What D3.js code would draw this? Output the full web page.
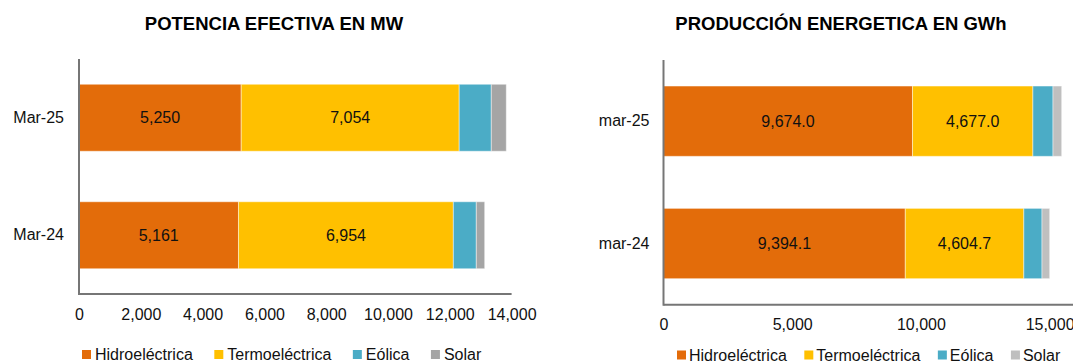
<!DOCTYPE html>
<html>
<head>
<meta charset="utf-8">
<script src="https://cdn.jsdelivr.net/npm/d3@7"></script>
<style>
  body { margin: 0; background: #fff; }
  svg { font-family: "Liberation Sans", Arial, sans-serif; display: block; }
  .axis path { stroke: #767676; stroke-width: 2; }
  .axis text { font-size: 16px; fill: #111; }
</style>
</head>
<body>
<svg width="1073" height="363"></svg>
<script>
// series en kleuren
var seriesNames = ["Hidroeléctrica", "Termoeléctrica", "Eólica", "Solar"];

// potencia efectiva (MW)
var potCategories = ["Mar-25", "Mar-24"];
var potHidro = [5250, 5161];
var potTermo = [7054, 6954];
var potEolica = [1039, 743];
var potSolar = [485, 271];
var potTicks = [0, 2000, 4000, 6000, 8000, 10000, 12000, 14000];

// produccion energetica (GWh)
var prodCategories = ["mar-25", "mar-24"];
var prodHidro = [9674.0, 9394.1];
var prodTermo = [4677.0, 4604.7];
var prodEolica = [781, 706];
var prodSolar = [338, 299];
var prodTicks = [0, 5000, 10000, 15000];

var svg = d3.select("svg");

function buildRows(cats, h, t, e, s) {
    return cats.map(function (c, i) {
        return { cat: c, "Hidroeléctrica": h[i], "Termoeléctrica": t[i], "Eólica": e[i], "Solar": s[i] };
    });
}

function drawChart(cfg) {
    var g = svg.append("g");
    var x = d3.scaleLinear().domain(cfg.domain).range(cfg.xRange);
    var y = d3.scaleBand().domain(cfg.rows.map(function (d) { return d.cat; }))
        .range(cfg.yRange).paddingInner(cfg.pad).paddingOuter(cfg.pad / 2);
    var color = d3.scaleOrdinal().domain(seriesNames).range(cfg.colors);

    var stacked = d3.stack().keys(seriesNames)(cfg.rows);

    // titel
    g.append("text")
        .attr("x", cfg.titleX).attr("y", 29.5)
        .attr("text-anchor", "middle")
        .style("font-weight", "bold").style("font-size", "18.5px").style("fill", "#000")
        .text(cfg.title);

    // bars
    var layer = g.selectAll(".layer").data(stacked).enter().append("g")
        .attr("fill", function (d) { return color(d.key); });
    layer.selectAll("rect").data(function (d) { return d; }).enter().append("rect")
        .attr("x", function (d) { return x(d[0]); })
        .attr("y", function (d) { return y(d.data.cat); })
        .attr("width", function (d) { return x(d[1]) - x(d[0]); })
        .attr("height", y.bandwidth())
        .attr("stroke", "rgba(255,255,255,0.45)")
        .attr("stroke-width", 1);

    // waarden in de eerste twee series
    stacked.slice(0, 2).forEach(function (s) {
        g.selectAll(null).data(s).enter().append("text")
            .attr("x", function (d) { return (x(d[0]) + x(d[1])) / 2; })
            .attr("y", function (d) { return y(d.data.cat) + y.bandwidth() / 2; })
            .attr("dy", "0.35em")
            .attr("text-anchor", "middle")
            .style("font-size", "16px").style("fill", "#111")
            .text(function (d) { return cfg.fmt(d[1] - d[0]); });
    });

    // assen
    g.append("g").attr("class", "axis")
        .attr("transform", "translate(0," + cfg.yRange[1] + ")")
        .call(d3.axisBottom(x).tickValues(cfg.ticks).tickFormat(d3.format(",")).tickSize(0).tickPadding(cfg.xPad))
        .call(function (a) { a.select(".domain").attr("d", "M" + cfg.xRange[0] + ",0H" + cfg.xRange[1]); });

    g.append("g").attr("class", "axis")
        .attr("transform", "translate(" + cfg.xRange[0] + ",0)")
        .call(d3.axisLeft(y).tickSize(0).tickPadding(cfg.yPad))
        .call(function (a) { a.select(".domain").attr("d", "M0," + cfg.yRange[0] + "V" + (cfg.yRange[1] + 1)); });

    // legenda
    var lx = cfg.legendX;
    seriesNames.forEach(function (n) {
        g.append("rect").attr("x", lx).attr("y", cfg.legendY - 10).attr("width", 9).attr("height", 9)
            .attr("fill", color(n));
        var t = g.append("text").attr("x", lx + 9 + cfg.legendGap).attr("y", cfg.legendY)
            .style("font-size", "16px").style("fill", "#111").text(n);
        lx = lx + 9 + cfg.legendGap + t.node().getComputedTextLength() + cfg.itemGap;
    });
}

drawChart({
    title: "POTENCIA EFECTIVA EN MW",
    titleX: 274,
    rows: buildRows(potCategories, potHidro, potTermo, potEolica, potSolar),
    domain: [0, 14000],
    xRange: [79, 511.6],
    yRange: [59, 294],
    pad: 0.43,
    ticks: potTicks,
    fmt: d3.format(",.0f"),
    colors: ["#E36C0A", "#FFC000", "#4BACC6", "#A5A5A5"],
    xPad: 14.5, yPad: 15,
    legendX: 82, legendY: 360, legendGap: 4, itemGap: 21.5
});

drawChart({
    title: "PRODUCCIÓN ENERGETICA EN GWh",
    titleX: 841,
    rows: buildRows(prodCategories, prodHidro, prodTermo, prodEolica, prodSolar),
    domain: [0, 20000],
    xRange: [663.5, 1178.3],
    yRange: [60, 304.7],
    pad: 0.4255,
    ticks: prodTicks,
    fmt: d3.format(",.1f"),
    colors: ["#E36C0A", "#FFC000", "#4BACC6", "#BFBFBF"],
    xPad: 14, yPad: 14,
    legendX: 677, legendY: 360.5, legendGap: 3, itemGap: 17.5
});
</script>
</body>
</html>
